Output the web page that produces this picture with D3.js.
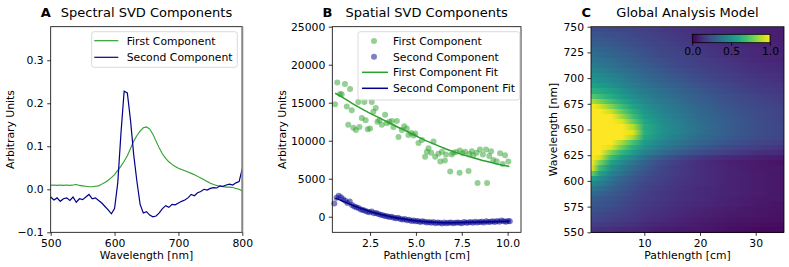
<html>
<head>
<meta charset="utf-8">
<style>
  body { margin: 0; background: white }
  text { font-family: "DejaVu Sans", sans-serif; }
</style>
</head>
<body>
<script src="https://d3js.org/d3.v7.min.js"></script>
<script>

// --- Panel A: spectral SVD components (5 nm steps)
var wavelengths = [500,505,510,515,520,525,530,535,540,545,550,555,560,565,570,575,580,585,590,595,
  600,605,610,615,620,625,630,635,640,645,650,655,660,665,670,675,680,685,690,695,
  700,705,710,715,720,725,730,735,740,745,750,755,760,765,770,775,780,785,790,795,800];
var spectralFirst = [0.009,0.010,0.009,0.010,0.009,0.010,0.009,0.010,0.011,0.009,0.008,0.007,0.006,0.006,0.007,0.008,0.012,0.016,0.021,0.027,
  0.034,0.044,0.054,0.065,0.078,0.095,0.112,0.125,0.135,0.143,0.145,0.140,0.128,0.112,0.096,0.082,0.072,0.064,0.058,0.053,
  0.049,0.046,0.043,0.040,0.037,0.034,0.030,0.026,0.022,0.018,0.014,0.011,0.009,0.007,0.006,0.005,0.005,0.004,0.002,0.000,-0.004];
var spectralSecond = [-0.018,-0.025,-0.020,-0.028,-0.022,-0.020,-0.026,-0.018,-0.030,-0.022,-0.024,-0.018,-0.012,-0.022,-0.020,-0.026,-0.032,-0.040,-0.048,-0.057,
  -0.045,0.015,0.130,0.228,0.224,0.160,0.080,0.018,-0.035,-0.055,-0.052,-0.060,-0.064,-0.062,-0.055,-0.045,-0.038,-0.042,-0.035,-0.036,
  -0.032,-0.028,-0.025,-0.020,-0.012,-0.015,-0.008,-0.005,0.000,-0.002,0.002,0.004,0.003,0.008,0.007,0.010,0.012,0.010,0.015,0.018,0.048];

// --- Panel B: spatial SVD components
var firstPathlength = [0.59,0.71,0.86,0.95,1.13,1.23,1.31,1.41,1.50,1.59,1.73,1.86,1.92,2.05,2.19,2.26,2.37,2.50,2.59,2.68,
  2.81,2.90,3.01,3.14,3.32,3.41,3.55,3.69,3.77,3.96,4.05,4.23,4.36,4.50,4.59,4.74,4.87,4.96,5.14,5.33,
  5.50,5.60,5.69,5.83,5.96,6.05,6.23,6.33,6.42,6.58,6.64,6.87,6.95,7.04,7.20,7.38,7.40,7.55,7.68,7.87,
  7.91,8.05,8.13,8.31,8.36,8.49,8.65,8.82,8.88,9.00,9.10,9.22,9.40,9.59,9.73,9.86,10.04];
var firstValues = [14800,17650,16150,16100,17450,14500,12100,16800,14000,11700,11400,15100,11800,13000,15100,12700,11500,11600,15100,13800,
  14300,12500,12700,12100,13400,12300,12500,12600,11800,12600,10500,11400,11900,11600,10750,11000,10700,10950,9700,10100,
  7900,8550,9000,8400,9900,7900,8300,7250,8550,7400,8200,5950,8200,8400,8500,5800,8700,8350,8550,6000,
  8250,8600,8100,8400,4450,8850,8200,8850,4450,8000,8600,7450,7300,8350,6950,8100,7250];
var secondPathlength = [0.55,0.67,0.79,0.91,1.03,1.15,1.27,1.39,1.51,1.63,1.75,1.87,1.99,2.11,2.23,2.35,2.47,2.59,2.71,2.83,
  2.95,3.07,3.19,3.31,3.43,3.55,3.67,3.79,3.91,4.03,4.15,4.27,4.39,4.51,4.63,4.75,4.87,4.99,5.11,5.23,
  5.35,5.47,5.59,5.71,5.83,5.95,6.07,6.19,6.31,6.43,6.55,6.67,6.79,6.91,7.03,7.15,7.27,7.39,7.51,7.63,
  7.75,7.87,7.99,8.11,8.23,8.35,8.47,8.59,8.71,8.83,8.95,9.07,9.19,9.31,9.43,9.55,9.67,9.79,9.91,10.03,10.12];
var secondValues = [1750,2500,2750,2550,2300,2100,1800,2000,1550,1350,1250,1150,950,900,800,650,600,700,450,500,
  350,250,200,100,50,-50,0,-150,-200,-150,-300,-350,-300,-450,-400,-550,-500,-600,-550,-700,
  -600,-650,-750,-700,-800,-700,-850,-750,-800,-900,-750,-850,-800,-750,-850,-800,-750,-800,-850,-700,
  -800,-750,-700,-800,-650,-750,-700,-650,-750,-600,-700,-650,-600,-700,-550,-650,-500,-600,-650,-550,-600];
var fitPathlength = [0.6,1.0,1.5,2.0,2.5,3.0,3.5,4.0,4.5,5.0,5.5,6.0,6.5,7.0,7.5,8.0,8.5,9.0,9.5,10.1];
var firstFit = [16250,15700,14950,14250,13600,13000,12400,11800,11250,10650,10050,9550,9050,8600,8200,7850,7500,7200,6900,6600];
var secondFit = [2450,2050,1550,1100,680,350,80,-180,-380,-540,-650,-730,-780,-790,-770,-740,-700,-670,-640,-610];

// --- Panel C: global analysis model, one row per 5 nm band (start wavelength)
var modelPathlength = [0.5,2,4,6,8,10,13,16,20,25,30,35];
var modelWavelength = [745,740,735,730,725,720,715,710,705,700,695,690,685,680,675,670,665,660,655,650,
  645,640,635,630,625,620,615,610,605,600,595,590,585,580,575,570,565,560,555,550];
var modelRows = [
  [0.24,0.23,0.22,0.21,0.2,0.19,0.17,0.15,0.13,0.11,0.09,0.08],
  [0.26,0.25,0.24,0.23,0.21,0.2,0.18,0.16,0.14,0.11,0.09,0.08],
  [0.28,0.27,0.26,0.24,0.23,0.21,0.19,0.17,0.14,0.12,0.1,0.08],
  [0.3,0.29,0.28,0.26,0.24,0.22,0.2,0.18,0.15,0.12,0.1,0.09],
  [0.33,0.32,0.3,0.28,0.26,0.24,0.21,0.19,0.16,0.13,0.11,0.09],
  [0.36,0.34,0.32,0.3,0.28,0.25,0.22,0.2,0.17,0.14,0.11,0.1],
  [0.39,0.37,0.35,0.32,0.3,0.27,0.24,0.21,0.18,0.15,0.12,0.1],
  [0.42,0.4,0.37,0.34,0.31,0.29,0.25,0.22,0.19,0.16,0.13,0.11],
  [0.45,0.43,0.4,0.37,0.34,0.31,0.27,0.24,0.2,0.17,0.14,0.12],
  [0.49,0.47,0.44,0.4,0.36,0.33,0.29,0.26,0.22,0.18,0.15,0.13],
  [0.53,0.51,0.47,0.43,0.39,0.35,0.31,0.28,0.23,0.19,0.16,0.14],
  [0.58,0.55,0.51,0.46,0.42,0.38,0.33,0.3,0.25,0.21,0.17,0.15],
  [0.64,0.61,0.56,0.5,0.45,0.41,0.36,0.32,0.27,0.22,0.18,0.16],
  [0.74,0.69,0.62,0.55,0.49,0.44,0.38,0.34,0.29,0.24,0.2,0.17],
  [0.88,0.8,0.7,0.61,0.53,0.47,0.41,0.36,0.3,0.25,0.21,0.18],
  [1.04,0.94,0.81,0.68,0.58,0.5,0.43,0.38,0.32,0.26,0.22,0.19],
  [1.3,1.08,0.92,0.76,0.63,0.53,0.45,0.4,0.33,0.27,0.23,0.2],
  [1.6,1.3,1.04,0.85,0.69,0.56,0.47,0.41,0.34,0.28,0.23,0.2],
  [2.0,1.6,1.15,0.95,0.76,0.59,0.49,0.43,0.35,0.29,0.24,0.2],
  [2.4,1.9,1.4,1.1,0.88,0.62,0.51,0.44,0.36,0.29,0.24,0.21],
  [2.6,2.1,1.55,1.2,0.95,0.63,0.51,0.44,0.36,0.29,0.24,0.21],
  [2.5,2.0,1.45,1.1,0.86,0.6,0.49,0.42,0.34,0.28,0.23,0.2],
  [2.2,1.7,1.1,0.86,0.7,0.55,0.45,0.39,0.32,0.26,0.21,0.18],
  [1.9,1.4,0.95,0.76,0.62,0.5,0.41,0.35,0.28,0.22,0.18,0.15],
  [1.5,1.12,0.8,0.65,0.54,0.44,0.35,0.29,0.23,0.18,0.14,0.12],
  [1.25,0.94,0.68,0.55,0.46,0.37,0.28,0.22,0.16,0.12,0.09,0.07],
  [1.08,0.8,0.58,0.47,0.39,0.31,0.23,0.18,0.13,0.09,0.07,0.05],
  [0.98,0.68,0.5,0.41,0.34,0.28,0.21,0.17,0.13,0.1,0.07,0.06],
  [0.78,0.58,0.44,0.36,0.3,0.25,0.2,0.17,0.13,0.1,0.08,0.06],
  [0.58,0.49,0.39,0.32,0.27,0.23,0.19,0.16,0.13,0.1,0.08,0.06],
  [0.48,0.42,0.35,0.29,0.25,0.21,0.18,0.15,0.13,0.1,0.08,0.06],
  [0.4,0.36,0.31,0.27,0.23,0.2,0.17,0.15,0.12,0.1,0.08,0.06],
  [0.35,0.32,0.28,0.25,0.22,0.19,0.16,0.14,0.12,0.1,0.08,0.06],
  [0.3,0.28,0.26,0.23,0.2,0.18,0.16,0.14,0.12,0.09,0.07,0.06],
  [0.27,0.26,0.24,0.22,0.19,0.17,0.15,0.13,0.11,0.09,0.07,0.05],
  [0.25,0.24,0.22,0.2,0.18,0.16,0.14,0.12,0.1,0.08,0.06,0.05],
  [0.23,0.22,0.2,0.19,0.17,0.15,0.13,0.11,0.09,0.07,0.06,0.04],
  [0.21,0.2,0.19,0.17,0.16,0.14,0.12,0.1,0.08,0.06,0.05,0.04],
  [0.18,0.17,0.16,0.15,0.14,0.12,0.1,0.09,0.07,0.05,0.04,0.03],
  [0.15,0.14,0.13,0.12,0.11,0.1,0.08,0.07,0.06,0.04,0.03,0.02]
];
var colorbarTicks = [0, 0.5, 1];

var green = "#2ca02c", navy = "#00008b";
var plotTop = 26.7, plotBottom = 232.3;
var fontSize = "10.8px";

var svg = d3.select("body").append("svg")
	.attr("width", 789)
	.attr("height", 267);
var defs = svg.append("defs");

var minus = function(s) { return s.replace("-", "\u2212"); };

function drawAxes(g, x, y, xTicks, yTicks, xFmt, yFmt) {
	var xa = g.append("g")
		.attr("transform", "translate(0," + plotBottom + ")")
		.call(d3.axisBottom(x).tickValues(xTicks).tickFormat(xFmt).tickSize(3.5).tickPadding(3.5).tickSizeOuter(0));
	var ya = g.append("g")
		.attr("transform", "translate(" + x.range()[0] + ",0)")
		.call(d3.axisLeft(y).tickValues(yTicks).tickFormat(yFmt).tickSize(3.5).tickPadding(3.5).tickSizeOuter(0));
	[xa, ya].forEach(function(a) {
		a.selectAll("text").style("font-size", fontSize).style("font-family", "DejaVu Sans").attr("fill", "black");
		a.select(".domain").remove();
		a.selectAll("line").attr("stroke", "black").attr("stroke-width", 0.8);
	});
}

function frame(g, x) {
	var x0 = x.range()[0], x1 = x.range()[1];
	g.append("rect")
		.attr("x", x0).attr("y", plotTop).attr("width", x1 - x0).attr("height", plotBottom - plotTop)
		.attr("fill", "none").attr("stroke", "black").attr("stroke-width", 0.8);
}

function titles(g, x, letter, title, xlabel, ylabel, ylabelX) {
	var x0 = x.range()[0], x1 = x.range()[1];
	g.append("text").attr("x", x0).attr("y", 17).attr("text-anchor", "end")
		.style("font-size", "13px").style("font-weight", "bold").text(letter);
	g.append("text").attr("x", (x0 + x1) / 2).attr("y", 17).attr("text-anchor", "middle")
		.style("font-size", "13px").text(title);
	g.append("text").attr("x", (x0 + x1) / 2).attr("y", 258.5).attr("text-anchor", "middle")
		.style("font-size", fontSize).text(xlabel);
	g.append("text").attr("transform", "translate(" + ylabelX + "," + ((plotTop + plotBottom) / 2) + ") rotate(-90)")
		.attr("text-anchor", "middle").style("font-size", fontSize).text(ylabel);
}

// ---------------- Panel A
var xA = d3.scaleLinear().domain([500, 800]).range([50.7, 242.3]);
var yA = d3.scaleLinear().domain([-0.1, 0.378]).range([plotBottom, plotTop]);
var gA = svg.append("g");

var lineA = function(vals) {
	return d3.line().x(function(d, i) { return xA(wavelengths[i]); }).y(function(d) { return yA(d); })(vals);
};
gA.append("path").attr("d", lineA(spectralFirst)).attr("fill", "none").attr("stroke", green).attr("stroke-width", 1.1);
gA.append("path").attr("d", lineA(spectralSecond)).attr("fill", "none").attr("stroke", navy).attr("stroke-width", 1.2);

drawAxes(gA, xA, yA, [500, 600, 700, 800], [-0.1, 0, 0.1, 0.2, 0.3], d3.format("d"), function(d) { return minus(d3.format(".1f")(d)); });
frame(gA, xA);
gA.append("line").attr("x1", xA(800)).attr("x2", xA(800)).attr("y1", plotTop).attr("y2", plotBottom)
	.attr("stroke", "#888").attr("stroke-width", 2);
titles(gA, xA, "A", "Spectral SVD Components", "Wavelength [nm]", "Arbitrary Units", 14);

var legA = gA.append("g");
legA.append("rect").attr("x", 91.7).attr("y", 31.7).attr("width", 145.6).attr("height", 35.6).attr("rx", 2.5)
	.attr("fill", "white").attr("fill-opacity", 0.8).attr("stroke", "#d0d0d0").attr("stroke-width", 0.8);
[["First Component", green, 40.7], ["Second Component", navy, 57.3]].forEach(function(e) {
	legA.append("line").attr("x1", 94.3).attr("x2", 118.3).attr("y1", e[2]).attr("y2", e[2]).attr("stroke", e[1]).attr("stroke-width", 1.2);
	legA.append("text").attr("x", 126.7).attr("y", e[2] + 3.9).style("font-size", fontSize).text(e[0]);
});

// ---------------- Panel B
var xB = d3.scaleLinear().domain([0.44, 10.73]).range([332.3, 521]);
var yB = d3.scaleLinear().domain([-2050, 25000]).range([plotBottom, plotTop]);
var gB = svg.append("g");

gB.append("g").selectAll("circle").data(firstValues).enter().append("circle")
	.attr("cx", function(d, i) { return xB(firstPathlength[i]); })
	.attr("cy", function(d) { return yB(d); })
	.attr("r", 3).attr("fill", green).attr("fill-opacity", 0.5);
gB.append("g").selectAll("circle").data(secondValues).enter().append("circle")
	.attr("cx", function(d, i) { return xB(secondPathlength[i]); })
	.attr("cy", function(d) { return yB(d); })
	.attr("r", 3).attr("fill", navy).attr("fill-opacity", 0.5);

var lineB = function(vals) {
	return d3.line().curve(d3.curveMonotoneX).x(function(d, i) { return xB(fitPathlength[i]); }).y(function(d) { return yB(d); })(vals);
};
gB.append("path").attr("d", lineB(firstFit)).attr("fill", "none").attr("stroke", green).attr("stroke-width", 1.5);
gB.append("path").attr("d", lineB(secondFit)).attr("fill", "none").attr("stroke", navy).attr("stroke-width", 1.5);

drawAxes(gB, xB, yB, [2.5, 5, 7.5, 10], [0, 5000, 10000, 15000, 20000, 25000], d3.format(".1f"), d3.format("d"));
frame(gB, xB);
titles(gB, xB, "B", "Spatial SVD Components", "Pathlength [cm]", "Arbitrary Units", 286);

var legB = gB.append("g");
legB.append("rect").attr("x", 358).attr("y", 31.7).attr("width", 161.7).attr("height", 68.3).attr("rx", 2.5)
	.attr("fill", "white").attr("fill-opacity", 0.8).attr("stroke", "#d0d0d0").attr("stroke-width", 0.8);
[["First Component", green, 41, "dot"], ["Second Component", navy, 56.7, "dot"],
 ["First Component Fit", green, 72.3, "line"], ["Second Component Fit", navy, 88.3, "line"]].forEach(function(e) {
	if (e[3] == "dot") {
		legB.append("circle").attr("cx", 374).attr("cy", e[2]).attr("r", 3).attr("fill", e[1]).attr("fill-opacity", 0.5);
	} else {
		legB.append("line").attr("x1", 362).attr("x2", 388).attr("y1", e[2]).attr("y2", e[2]).attr("stroke", e[1]).attr("stroke-width", 1.5);
	}
	legB.append("text").attr("x", 393).attr("y", e[2] + 3.9).style("font-size", fontSize).text(e[0]);
});

// ---------------- Panel C
var xC = d3.scaleLinear().domain([0.43, 35.08]).range([591, 784]);
var yC = d3.scaleLinear().domain([550, 750]).range([plotBottom, plotTop]);
var color = function(v) { return d3.interpolateViridis(Math.max(0, Math.min(1, v))); };
var gC = svg.append("g");
var cx0 = xC.range()[0], cw = xC.range()[1] - xC.range()[0];

modelRows.forEach(function(row, r) {
	var grad = defs.append("linearGradient").attr("id", "row" + r);
	row.forEach(function(v, j) {
		grad.append("stop").attr("offset", (xC(modelPathlength[j]) - cx0) / cw).attr("stop-color", color(v));
	});
});
gC.append("g").attr("shape-rendering", "crispEdges")
	.selectAll("rect").data(modelWavelength).enter().append("rect")
	.attr("x", cx0).attr("width", cw)
	.attr("y", function(d) { return yC(d + 5); })
	.attr("height", function(d) { return yC(d) - yC(d + 5) + 1; })
	.attr("fill", function(d, i) { return "url(#row" + i + ")"; });

drawAxes(gC, xC, yC, [10, 20, 30], [550, 575, 600, 625, 650, 675, 700, 725, 750], d3.format("d"), d3.format("d"));
frame(gC, xC);
titles(gC, xC, "C", "Global Analysis Model", "Pathlength [cm]", "Wavelength [nm]", 557);

// colorbar inset
var cbX = d3.scaleLinear().domain([0, 1]).range([692.3, 770]);
var cbGrad = defs.append("linearGradient").attr("id", "cbar");
d3.range(0, 1.001, 0.1).forEach(function(t) {
	cbGrad.append("stop").attr("offset", t).attr("stop-color", d3.interpolateViridis(t));
});
gC.append("rect").attr("x", cbX(0)).attr("y", 34.3).attr("width", cbX(1) - cbX(0)).attr("height", 8.4)
	.attr("fill", "url(#cbar)").attr("stroke", "black").attr("stroke-width", 0.8);
var cbAxis = gC.append("g").attr("transform", "translate(0,42.7)")
	.call(d3.axisBottom(cbX).tickValues(colorbarTicks).tickFormat(d3.format(".1f")).tickSize(3).tickPadding(2).tickSizeOuter(0));
cbAxis.select(".domain").remove();
cbAxis.selectAll("text").style("font-size", fontSize).style("font-family", "DejaVu Sans").attr("fill", "black");
cbAxis.selectAll("line").attr("stroke", "black").attr("stroke-width", 0.8);

</script>
</body>
</html>
